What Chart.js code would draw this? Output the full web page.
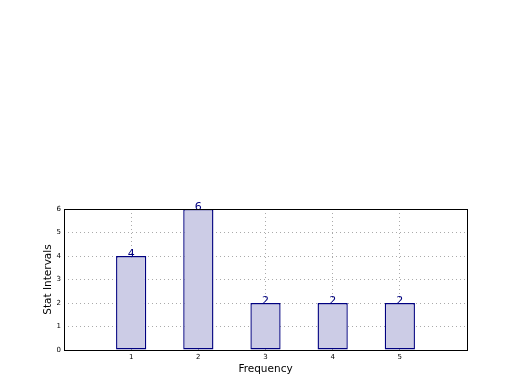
<!DOCTYPE html>
<html>
<head>
<meta charset="utf-8">
<script src="https://cdn.jsdelivr.net/npm/chart.js@4"></script>
<style>
  html, body { margin: 0; padding: 0; background: #fff; }
  #wrap { width: 520px; height: 390px; }
</style>
</head>
<body>
<div id="wrap"><canvas id="c" width="520" height="390"></canvas></div>
<script>
// values
const positions = [1, 2, 3, 4, 5];
const counts = [4, 6, 2, 2, 2];
const xTicks = [1, 2, 3, 4, 5];
const yTicks = [0, 1, 2, 3, 4, 5, 6];

const NAVY = '#000080';
const FONT = "'DejaVu Sans', sans-serif";

// value text above every bar
const barLabels = {
    id: 'barLabels',
    afterDatasetsDraw(chart) {
        const ctx = chart.ctx;
        const meta = chart.getDatasetMeta(0);
        ctx.save();
        ctx.fillStyle = NAVY;
        ctx.font = '11px ' + FONT;
        ctx.textAlign = 'center';
        ctx.textBaseline = 'alphabetic';
        meta.data.forEach((bar, i) => {
            ctx.fillText(String(counts[i]), bar.x, bar.y + 1);
        });
        ctx.restore();
    }
};

// full black frame around the plot area
const frame = {
    id: 'frame',
    afterDraw(chart) {
        const a = chart.chartArea;
        const ctx = chart.ctx;
        ctx.save();
        ctx.strokeStyle = '#000';
        ctx.lineWidth = 1;
        ctx.strokeRect(Math.round(a.left) + 0.5, Math.round(a.top) + 0.5,
                       Math.round(a.right - a.left), Math.round(a.bottom - a.top));
        ctx.restore();
    }
};

new Chart(document.getElementById('c').getContext('2d'), {
    type: 'bar',
    data: {
        datasets: [{
            data: positions.map((x, i) => ({ x: x, y: counts[i] })),
            backgroundColor: '#cccce6',
            borderColor: NAVY,
            borderWidth: 1.4,
            borderSkipped: false,
            barPercentage: 0.45,
            categoryPercentage: 1
        }]
    },
    options: {
        responsive: false,
        animation: false,
        layout: { padding: { left: 42, top: 209, right: 53, bottom: 14 } },
        plugins: { legend: { display: false }, tooltip: { enabled: false } },
        scales: {
            x: {
                type: 'linear',
                min: 0,
                max: 6,
                offset: false,
                z: 1,
                afterBuildTicks(scale) { scale.ticks = xTicks.map(v => ({ value: v })); },
                afterFit(scale) { scale.height = 26; },
                ticks: { color: '#000', font: { family: FONT, size: 7 }, padding: 3 },
                grid: { color: '#aaaaaa', drawTicks: false, offset: false },
                border: { display: false, dash: [1, 3] },
                title: { display: true, text: 'Frequency', color: '#000',
                         font: { family: FONT, size: 10.5 }, padding: 0 }
            },
            y: {
                min: 0,
                max: 6,
                z: 1,
                afterBuildTicks(scale) { scale.ticks = yTicks.map(v => ({ value: v })); },
                afterFit(scale) { scale.width = 22; },
                ticks: { color: '#000', font: { family: FONT, size: 7 }, padding: 3 },
                grid: { color: '#aaaaaa', drawTicks: false },
                border: { display: false, dash: [1, 3] },
                title: { display: true, text: 'Stat Intervals', color: '#000',
                         font: { family: FONT, size: 10.5 }, padding: 0 }
            }
        }
    },
    plugins: [barLabels, frame]
});
</script>
</body>
</html>
